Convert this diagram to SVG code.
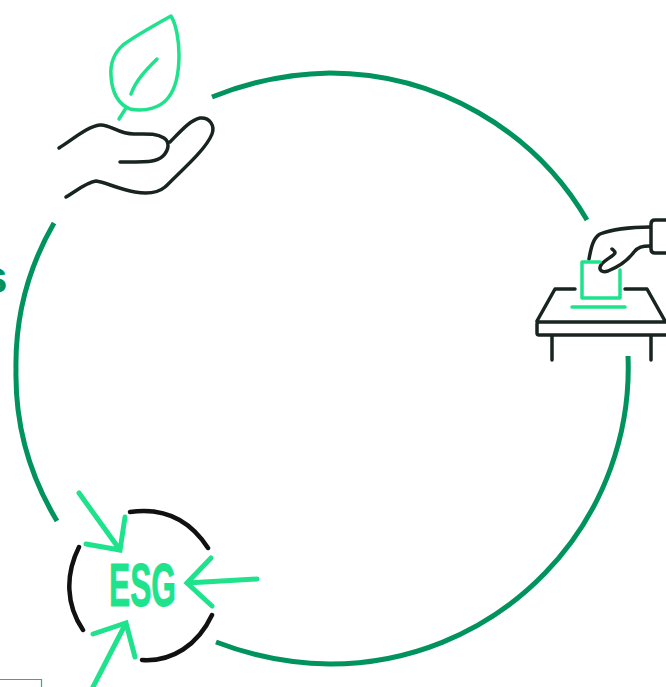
<svg xmlns="http://www.w3.org/2000/svg" width="666" height="687" viewBox="0 0 666 687">
<style>
.ring{fill:none;stroke:#00935d;stroke-width:5}
.g{fill:none;stroke:#1fe38c;stroke-width:3.5;stroke-linecap:round;stroke-linejoin:round}
.k{fill:none;stroke:#18241f;stroke-width:3.5;stroke-linecap:round;stroke-linejoin:round}
.a{fill:none;stroke:#1fe38c;stroke-width:5;stroke-linecap:round;stroke-linejoin:miter}
.b{fill:none;stroke:#111;stroke-width:4.5;stroke-linecap:round}
</style>
<rect width="666" height="687" fill="#fff"/>
<g id="connectors">
<path class="ring" d="M212 97A314 296 0 0 1 330 73A298 296 0 0 1 587 220"/>
<path class="ring" d="M628 356A298 296 0 0 1 330 664A314 296 0 0 1 216 642"/>
<path class="ring" d="M57 521A314 296 0 0 1 16 369A314 296 0 0 1 54 223"/>
</g>
<g id="node-leaf-hand">
<path class="g" d="M171 16C171 16 135 36 123 45C113 54 110 64 111 76C112 92 118 104 130 109C145 112 160 108 168 98C177 87 179 72 179 55C179 40 176 24 171 16Z"/>
<path class="g" d="M126 108L119 119M157 59C146 70 136 80 131 94"/>
<path class="k" d="M59 148C72 140 88 126 100 125C110 124 118 134 134 134C146 134 156 133 164 138C170 142 169 150 163 156C157 162 150 162 120 162"/>
<path class="k" d="M170 142C180 132 190 120 200 118C210 117 215 126 212 134C207 147 190 163 165 187C158 193 147 194 135 192C118 189 105 182 96 181C87 182 76 191 66 197"/>
</g>
<g id="node-ballot">
<path class="k" d="M666 220H655Q651 220 651 224V249Q651 253 655 253H666"/>
<path class="k" d="M589 259C591 248 593 238 600 234C610 230 630 227 650 227M650 246C642 246 638 247 634 252C628 260 618 267 608 271C602 273 598 270 601 265C604 260 614 256 615 253C615 251 613 250 612 249"/>
<path class="g" d="M600 262H582V298H620V270M572 307H625"/>
<path class="k" d="M575 289H555L537 321M625 289H647L665 321M666 322H539Q537 322 537 324V333Q537 335 539 335H666M552 336V360M651 336V360"/>
</g>
<g id="node-esg">
<path class="b" d="M130 512C165 507 190 520 208 548M79 547C65 575 66 605 83 630M212 615C198 645 172 662 142 660"/>
<path class="a" d="M79 493L120 550M86 544L120 550L125 517"/>
<path class="a" d="M257 579L187 583M211 558L187 583L212 606"/>
<path class="a" d="M93 687L126 623M93 634L126 623L135 657"/>
<text x="109" y="606" font-family="'Liberation Sans',Arial,sans-serif" font-weight="700" font-size="61" fill="#1fe38c" stroke="#1fe38c" stroke-width="1" textLength="67" lengthAdjust="spacingAndGlyphs">ESG</text>
</g>
<text x="-18" y="293" font-family="'Liberation Sans',Arial,sans-serif" font-weight="700" font-size="46" fill="#00935d">s</text>
<path d="M0 679.500H41.500V687" fill="none" stroke="#1fb884" stroke-width="1.200"/>
</svg>
